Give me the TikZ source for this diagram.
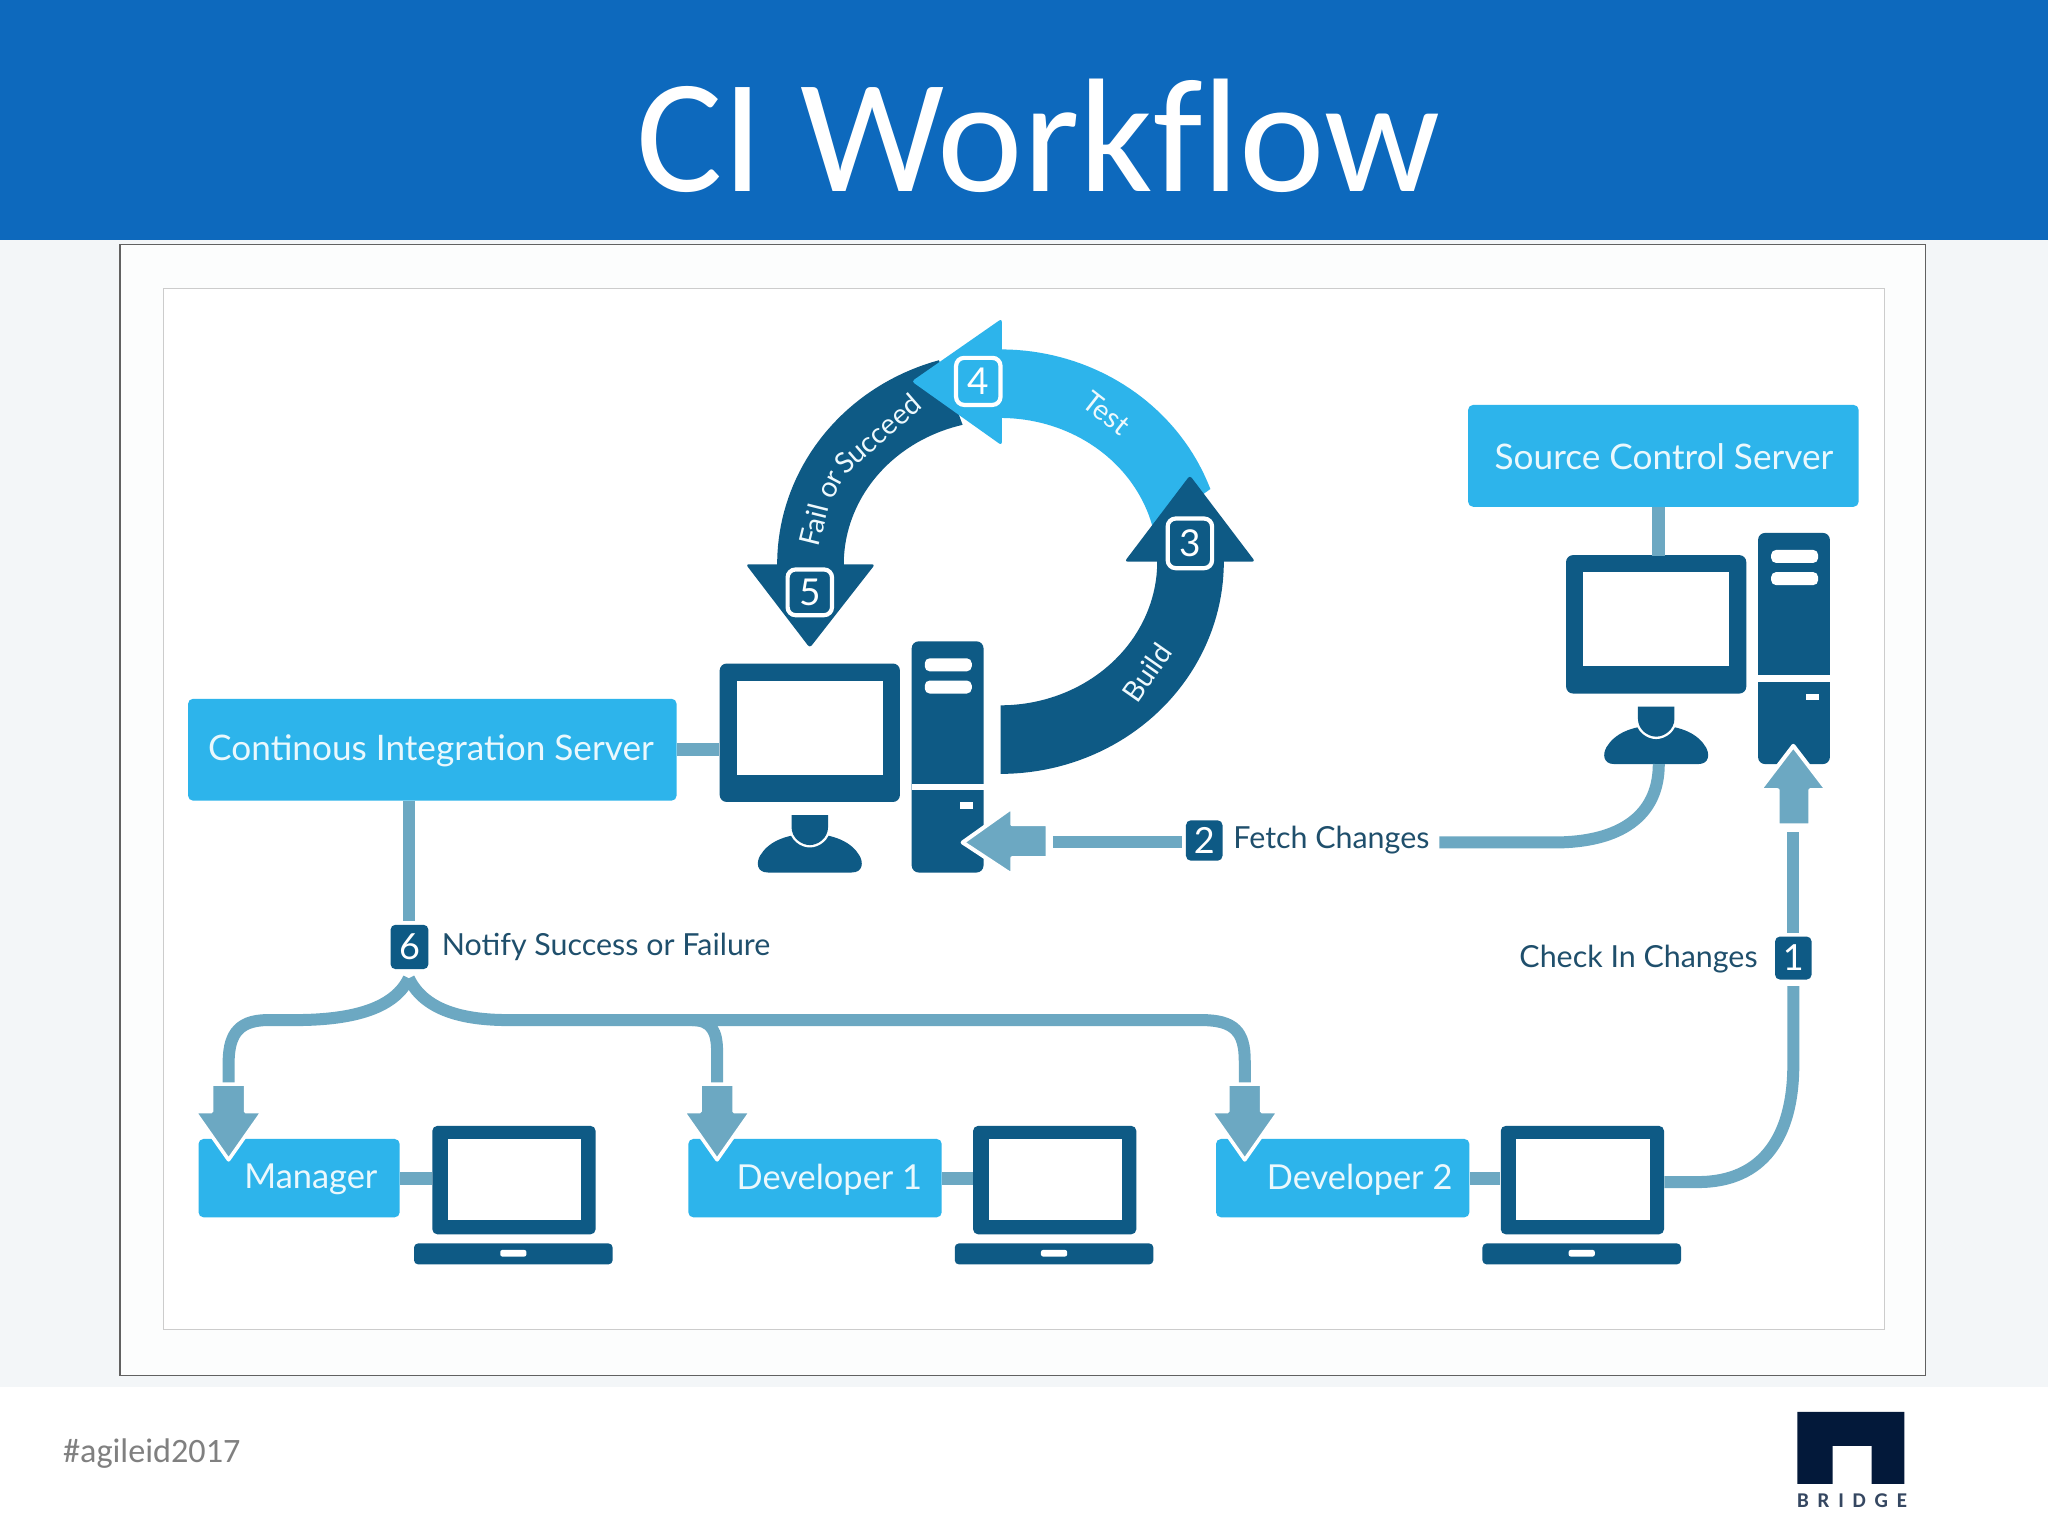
\documentclass[tikz,border=0pt]{standalone}
\usepackage{fontspec}
\setmainfont{Carlito}[Ligatures=NoCommon]
\newfontfamily\lato{Lato}
\newfontfamily\spacedfont[LetterSpace=42]{Carlito}
\definecolor{hdr}{HTML}{0D69BD}
\definecolor{dk}{HTML}{0E5A85}
\definecolor{lt}{HTML}{2DB4EB}
\definecolor{md}{HTML}{6CA8C2}
\definecolor{ink}{HTML}{1F4F6C}
\definecolor{navy}{HTML}{03193A}
\definecolor{strip}{HTML}{F3F6F8}
\definecolor{pane}{HTML}{FCFDFD}
\newcommand{\ux}{0.65306}
% \bx{name}{style}{x1}{y1}{x2}{y2}{text}
\newcommand{\bx}[7]{%
  \node[#2,minimum width={((#5)-(#3))*\ux pt},minimum height={((#6)-(#4))*\ux pt}] (#1) at ({((#3)+(#5))/2},{((#4)+(#6))/2}) {#7};}
\newcommand{\desktop}[3]{% prefix, monitor x, monitor y
  \bx{#1mon}{dkbox}{#2}{#3}{#2+138}{#3+106}{}
  \bx{#1scr}{scrbox}{#2+13}{#3+13}{#2+125}{#3+85}{}
  \begin{scope}[shift={(#2+69,#3+160)}]
    \fill[dk] (-32,0) -- (32,0) .. controls (41,0) and (41,-8) .. (38,-13) .. controls (32,-23) and (20,-29) .. (0,-30) .. controls (-20,-29) and (-32,-23) .. (-38,-13) .. controls (-41,-8) and (-41,0) .. (-32,0) -- cycle;
    \path[draw=white,fill=white,line width=2.4pt] (-14,-44) -- (14,-44) -- (14,-35) .. controls (14,-26) and (6,-21) .. (0,-21) .. controls (-6,-21) and (-14,-26) .. (-14,-35) -- cycle;
    \fill[dk] (-14,-44) -- (14,-44) -- (14,-35) .. controls (14,-26) and (6,-21) .. (0,-21) .. controls (-6,-21) and (-14,-26) .. (-14,-35) -- cycle;
  \end{scope}
  \begin{scope}[shift={(#2+147,#3-17)}]
    \bx{#1tow}{dkbox}{0}{0}{55}{177}{}
    \fill[white] (0,109) rectangle (55,114);
    \fill[white,rounded corners=2.5pt] (10,13) rectangle (46,23);
    \fill[white,rounded corners=2.5pt] (10,30) rectangle (46,40);
    \fill[white] (37,123) rectangle (47,128);
  \end{scope}}
\newcommand{\laptop}[2]{% prefix, lid x
  \bx{#1lid}{lidbox}{#2}{862}{#2+125}{945}{}
  \bx{#1scr}{scrbox}{#2+12}{872}{#2+114}{934}{}
  \fill[dk,rounded corners=2pt] (#2-14,952) -- (#2+138,952) -- (#2+138,968) -- (#2-14,968) -- cycle;
  \fill[white,rounded corners=1pt] (#2+52,957) rectangle (#2+72,962);}
\newcommand{\dnarrow}[1]{%
  \path[draw=white,fill=md,line width=1.8pt,line join=round] (#1,888) -- (#1+26,851) -- (#1+13,851) -- (#1+13,830) -- (#1-13,830) -- (#1-13,851) -- (#1-26,851) -- cycle;}
\tikzset{
  dkbox/.style={fill=dk,rounded corners=3.5pt,inner sep=0pt,draw=none},
  lidbox/.style={fill=dk,rounded corners=2.5pt,inner sep=0pt,draw=none},
  scrbox/.style={fill=white,inner sep=0pt,draw=none},
  ltbox/.style={fill=lt,rounded corners=2.5pt,inner sep=0pt,draw=none},
  btxt/.style={text=white!90!lt,font=\lato\fontsize{17.6}{20}\selectfont,inner sep=0pt},
  smtxt/.style={text=white!90!lt,font=\lato\fontsize{17.2}{20}\selectfont,inner sep=0pt},
  lbl/.style={text=ink,font=\lato\fontsize{15.2}{18}\selectfont,inner sep=0pt},
  arctxt/.style={text=white!92!lt,font=\lato\fontsize{14.2}{17}\selectfont,inner sep=0pt},
  numbadge/.style={fill=dk,rounded corners=2.5pt,inner sep=0pt,text=white,font=\lato\fontsize{18}{20}\selectfont},
  ringbadge/.style={draw=white,line width=2.1pt,rounded corners=4pt,inner sep=0pt,text=white,font=\lato\fontsize{18.5}{20}\selectfont},
  conn/.style={draw=md,line width=6pt},
}
\begin{document}
\begin{tikzpicture}[x=\ux pt,y=-\ux pt]
\useasboundingbox (0,0) rectangle (1568,1176);
% page
\fill[white] (0,0) rectangle (1568,1176);
\fill[strip] (0,184) rectangle (1568,1062);
\fill[hdr] (0,0) rectangle (1568,184);
\node[text=white,font=\fontsize{81}{90}\selectfont,inner sep=0pt] (title) at (795,104) {CI Workflow};
\draw[draw=black!62,line width=0.7pt,fill=pane] (92,187) rectangle (1474,1053);
\draw[draw=black!20,line width=0.7pt,fill=white] (125,221) rectangle (1443,1018);
% footer
\node[text=black!50,font=\fontsize{17.1}{20}\selectfont,inner sep=0pt,anchor=west] (tag) at (48,1113) {\#agileid2017};
\fill[navy] (1376,1136) -- (1376,1081) -- (1458,1081) -- (1458,1136) -- (1433,1136) -- (1433,1107) -- (1403,1107) -- (1403,1136) -- cycle;
\node[text=navy!80!white,font=\spacedfont\bfseries\fontsize{10.5}{12}\selectfont,inner sep=0pt] (brand) at (1418,1149) {BRIDGE};
% ring
\fill[lt] plot[domain=20:91,samples=40] ({766+171*cos(\x)},{430-162.5*sin(\x)}) -- plot[domain=91:13,samples=40] ({766+120*cos(\x)},{430-110*sin(\x)}) -- cycle;
\fill[dk] plot[domain=-90:2,samples=50] ({766+171*cos(\x)},{430-162.5*sin(\x)}) -- plot[domain=2:-90,samples=50] ({766+120*cos(\x)},{430-110*sin(\x)}) -- cycle;
\fill[dk] plot[domain=181:106,samples=40] ({766+171*cos(\x)},{432-162.5*sin(\x)}) -- plot[domain=104:181,samples=40] ({766+120*cos(\x)},{432-110*sin(\x)}) -- cycle;
\fill[dk,rounded corners=1.5pt] (911,364) -- (961,430) -- (861,430) -- cycle;
\fill[dk,rounded corners=1.5pt] (620,496) -- (670,432) -- (571,432) -- cycle;
\fill[lt,rounded corners=1.5pt] (698,292) -- (767,244) -- (767,341) -- cycle;
\bx{b4}{ringbadge}{732}{274}{766}{310}{4}
\bx{b3}{ringbadge}{894}{397}{928}{435}{3}
\bx{b5}{ringbadge}{603}{436}{637}{471}{5}
\node[arctxt,rotate=-38] (test) at (847,316) {Test};
\node[arctxt,rotate=55] (build) at (878,515) {Build};
\node[arctxt,rotate=76] (fail) at (623,402) {Fail};
\node[arctxt,rotate=62] (orw) at (637,372) {or};
\node[arctxt,rotate=41] (succ) at (672,332) {Succeed};
% CI server
\bx{ci}{ltbox}{144}{535}{518}{613}{}
\node[btxt] (cil) at (330,575) {Continous Integration Server};
\desktop{a}{551}{508}
\draw[conn,line width=6.5pt] (ci.east) -- (ci.east -| amon.west);
% source control
\bx{sc}{ltbox}{1124}{310}{1423}{388}{}
\node[btxt] (scl) at (1274,350) {Source Control Server};
\desktop{s}{1199}{425}
\draw[conn,line width=6.5pt] (1270,388) -- (1270,426);
% fetch changes
\path[draw=white,fill=md,line width=2pt,line join=round] (737,645) -- (775,618) -- (775,631) -- (802,631) -- (802,657) -- (775,657) -- (775,670) -- cycle;
\coordinate (fa) at (806,645);
\coordinate (fb) at (1102,645);
\coordinate (fc) at (1270,585);
\bx{b2}{numbadge}{908}{628}{936}{659}{2}
\draw[conn] (fa) -- (905,645);
\draw[conn] (fb) -- (1190,645) .. controls (1240,645) and (1270,625) .. (fc);
\node[lbl,anchor=west] (fetch) at (944,643) {Fetch Changes};
% check in
\path[draw=white,fill=md,line width=2pt,line join=round] (1373,571) -- (1399,605) -- (1386,605) -- (1386,632) -- (1361,632) -- (1361,605) -- (1347,605) -- cycle;
\bx{b1}{numbadge}{1359}{717}{1387}{750}{1}
\node[lbl,anchor=east] (check) at (1346,734) {Check In Changes};
\coordinate (ca) at (1373,637);
\coordinate (cb) at (1373,755);
\draw[conn] (ca) -- (1373,714);
% notify
\bx{b6}{numbadge}{299}{708}{328}{742}{6}
\node[lbl,anchor=west] (notify) at (338,725) {Notify Success or Failure};
\draw[conn] (313,613) -- (313,705);
\coordinate (fork) at (313,749);
\coordinate (t1) at (175,832);
\coordinate (t2) at (549,832);
\coordinate (t3) at (953,832);
\draw[conn] (fork) .. controls (300,776) and (260,781) .. (225,781) -- (205,781) .. controls (180,781) and (175,795) .. (175,815) -- (t1);
\draw[conn] (fork) .. controls (326,776) and (360,781) .. (390,781) -- (920,781) .. controls (945,781) and (953,790) .. (953,812) -- (t3);
\draw[conn] (530,781) .. controls (545,781) and (549,790) .. (549,805) -- (t2);
% bottom row
\bx{mg}{ltbox}{152}{872}{306}{932}{}
\node[smtxt] (mgl) at (238,903) {Manager};
\bx{d1}{ltbox}{527}{872}{721}{932}{}
\node[smtxt] (d1l) at (635,903) {Developer 1};
\bx{d2}{ltbox}{931}{872}{1125}{932}{}
\node[smtxt] (d2l) at (1041,903) {Developer 2};
\laptop{m}{331}
\laptop{p}{745}
\laptop{q}{1149}
\draw[conn,line width=6.5pt] (mg.east) -- (mg.east -| mlid.west);
\draw[conn,line width=6.5pt] (d1.east) -- (d1.east -| plid.west);
\draw[conn,line width=6.5pt] (d2.east) -- (d2.east -| qlid.west);
\dnarrow{175}
\dnarrow{549}
\dnarrow{953}
\draw[conn] (qlid.east |- 0,905) -- (1300,905) .. controls (1350,905) and (1373,870) .. (1373,815) -- (cb);
\end{tikzpicture}
\end{document}
